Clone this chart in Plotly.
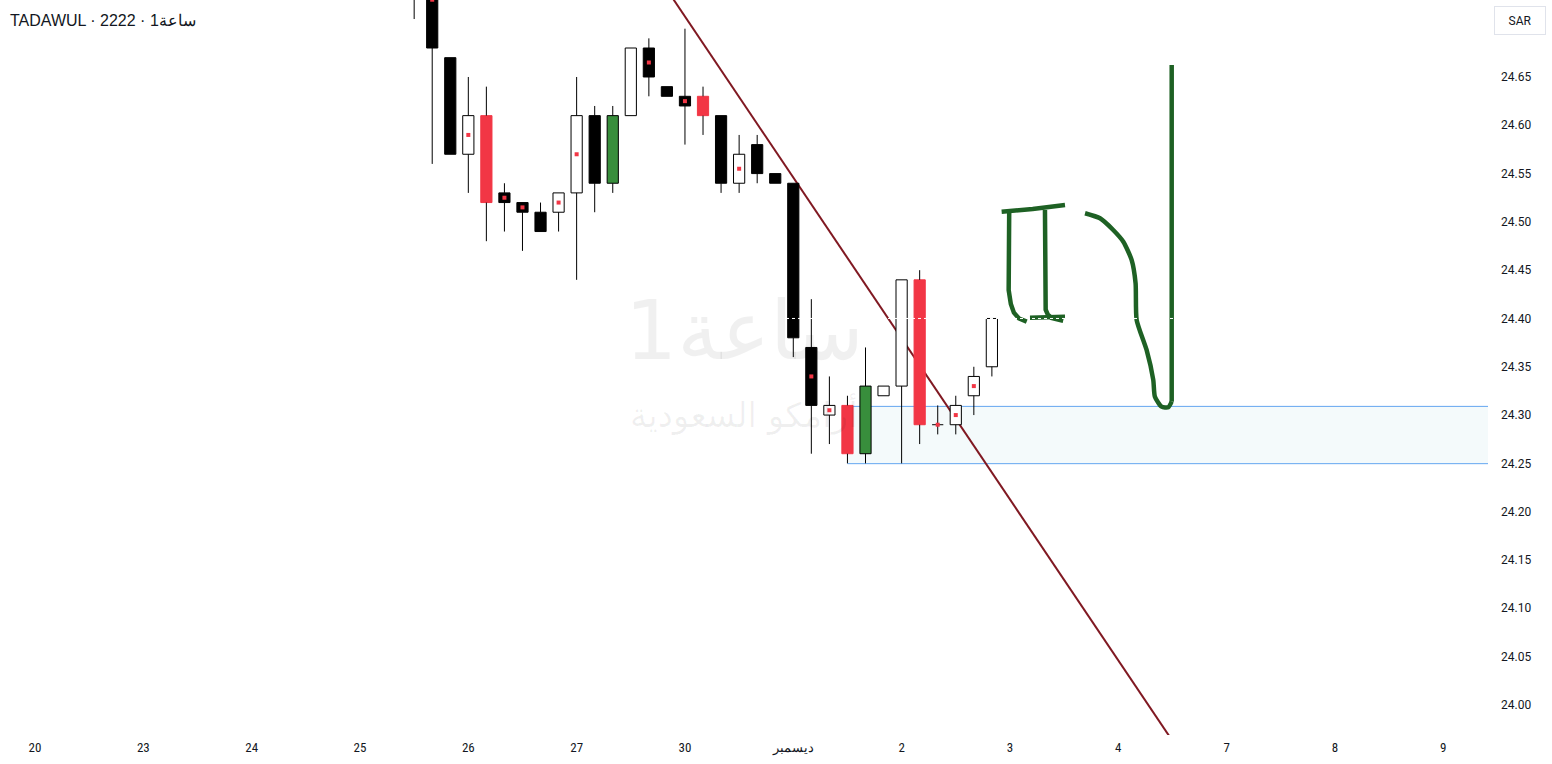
import plotly.graph_objects as go

# ---------------- data ----------------
candle_idx = list(range(21, 54))
opens  = [24.75, 24.74, 24.67, 24.57, 24.61, 24.53, 24.52, 24.51, 24.51, 24.53, 24.61, 24.54, 24.61,
          24.68, 24.64, 24.63, 24.63, 24.61, 24.54, 24.58, 24.55, 24.54, 24.37, 24.30, 24.31, 24.26,
          24.32, 24.33, 24.44, 24.29, 24.29, 24.32, 24.35]
highs  = [24.76, 24.75, 24.67, 24.65, 24.64, 24.54, 24.52, 24.52, 24.53, 24.65, 24.62, 24.62, 24.68,
          24.69, 24.64, 24.70, 24.64, 24.61, 24.59, 24.59, 24.55, 24.54, 24.42, 24.34, 24.32, 24.37,
          24.33, 24.44, 24.45, 24.31, 24.32, 24.35, 24.40]
lows   = [24.71, 24.56, 24.57, 24.53, 24.48, 24.49, 24.47, 24.49, 24.49, 24.44, 24.51, 24.53, 24.61,
          24.63, 24.63, 24.58, 24.59, 24.53, 24.53, 24.54, 24.54, 24.36, 24.26, 24.27, 24.25, 24.25,
          24.32, 24.25, 24.27, 24.28, 24.28, 24.30, 24.34]
closes = [24.74, 24.68, 24.57, 24.61, 24.52, 24.52, 24.51, 24.49, 24.53, 24.61, 24.54, 24.61, 24.68,
          24.65, 24.63, 24.62, 24.61, 24.54, 24.57, 24.55, 24.54, 24.38, 24.31, 24.31, 24.26, 24.33,
          24.33, 24.44, 24.29, 24.29, 24.31, 24.34, 24.40]
# k = black (down), w = hollow (up), r = red (down), g = green (up)
candle_style = ["k", "k", "k", "w", "r", "k", "k", "k", "w", "w", "k", "g", "w",
                "k", "k", "k", "r", "k", "w", "k", "k", "k", "k", "w", "r", "g",
                "w", "w", "r", "k", "w", "w", "w"]

dot_idx = [22, 24, 26, 27, 29, 30, 34, 36, 39, 43, 44, 50, 51, 52]
dot_val = [24.73, 24.59, 24.525, 24.515, 24.52, 24.57, 24.665, 24.625, 24.555, 24.34, 24.305, 24.29, 24.30, 24.33]

tick_idx = [0, 6, 12, 18, 24, 30, 36, 42, 48, 54, 60, 66, 72, 78]
tick_text = ["20", "23", "24", "25", "26", "27", "30", "ديسمبر", "2", "3", "4", "7", "8", "9"]
price_ticks = [24.00, 24.05, 24.10, 24.15, 24.20, 24.25, 24.30, 24.35, 24.40, 24.45, 24.50, 24.55, 24.60, 24.65]

trend_x = [35.0, 63.0]
trend_y = [24.7404, 23.9628]

zone_x0 = 45
zone_top = 24.309
zone_bottom = 24.2497
last_price = 24.40

# freehand drawing strokes (candle index, price)
stroke_top_x = [53.54, 55.26, 57.05]
stroke_top_y = [24.5106, 24.5134, 24.5175]
stroke_left_x = [53.96, 53.92, 53.93, 54.05, 54.22, 54.50, 54.93]
stroke_left_y = [24.5123, 24.4500, 24.4295, 24.4150, 24.4060, 24.4000, 24.3967]
stroke_mid_x = [55.94, 55.94, 55.98, 56.10, 56.30, 56.95]
stroke_mid_y = [24.5123, 24.4157, 24.4090, 24.4040, 24.4005, 24.3977]
stroke_bot_x = [55.11, 57.05]
stroke_bot_y = [24.4008, 24.4018]
stroke_curve_x = [58.16, 58.99, 59.72, 60.28, 60.74, 60.96, 61.02, 61.57, 61.94, 62.03, 62.40, 62.77, 62.96]
stroke_curve_y = [24.5089, 24.5037, 24.4916, 24.4795, 24.4606, 24.4364, 24.3984, 24.3674, 24.3363,
                  24.3190, 24.3087, 24.3081, 24.3139]
stroke_up_x = [62.96, 62.96]
stroke_up_y = [24.3139, 24.6624]

# ---------------- figure ----------------
X_RANGE = [-1.94, 80.48]
Y_RANGE = [23.9688, 24.7297]
BODY_W = 0.62

fig = go.Figure()

# wicks (outside the body only)
wx, wy = [], []
for i, o, h, l, c in zip(candle_idx, opens, highs, lows, closes):
    top, bot = max(o, c), min(o, c)
    if h > top:
        wx += [i, i, None]; wy += [h, top, None]
    if l < bot:
        wx += [i, i, None]; wy += [bot, l, None]
    if o == c:
        wx += [i - BODY_W / 2, i + BODY_W / 2, None]; wy += [o, c, None]
fig.add_trace(go.Scatter(x=wx, y=wy, mode="lines", line=dict(color="#000000", width=1),
                         hoverinfo="skip", showlegend=False))

styles = {
    "k": dict(fill="#000000", line="#000000"),
    "w": dict(fill="#ffffff", line="#000000"),
    "r": dict(fill="#F23645", line="#F23645"),
    "g": dict(fill="#388E3C", line="#000000"),
}
for key, st in styles.items():
    xs, hs, bs = [], [], []
    for i, o, c, s in zip(candle_idx, opens, closes, candle_style):
        if s == key and o != c:
            xs.append(i); bs.append(min(o, c)); hs.append(abs(c - o))
    fig.add_trace(go.Bar(x=xs, y=hs, base=bs, width=BODY_W,
                         marker=dict(color=st["fill"], line=dict(color=st["line"], width=1)),
                         hoverinfo="skip", showlegend=False))

fig.add_trace(go.Scatter(x=dot_idx, y=dot_val, mode="markers",
                         marker=dict(symbol="square", size=4, color="#F23645", line=dict(width=0)),
                         hoverinfo="skip", showlegend=False))

green = "#1E6124"
for sx, sy, shp in [(stroke_top_x, stroke_top_y, "linear"), (stroke_left_x, stroke_left_y, "linear"),
                    (stroke_mid_x, stroke_mid_y, "linear"), (stroke_bot_x, stroke_bot_y, "linear"),
                    (stroke_curve_x, stroke_curve_y, "spline"), (stroke_up_x, stroke_up_y, "linear")]:
    fig.add_trace(go.Scatter(x=sx, y=sy, mode="lines",
                             line=dict(color=green, width=4.5, shape=shp, smoothing=0.6),
                             hoverinfo="skip", showlegend=False))

shapes = [
    dict(type="rect", xref="x", yref="y", x0=zone_x0, x1=X_RANGE[1], y0=zone_bottom, y1=zone_top,
         fillcolor="#F4FAFB", line=dict(width=0), layer="below"),
    dict(type="line", xref="x", yref="y", x0=zone_x0, x1=X_RANGE[1], y0=zone_top, y1=zone_top,
         line=dict(color="#64A6F0", width=1), layer="below"),
    dict(type="line", xref="x", yref="y", x0=zone_x0, x1=X_RANGE[1], y0=zone_bottom, y1=zone_bottom,
         line=dict(color="#64A6F0", width=1), layer="below"),
    dict(type="line", xref="x", yref="y", x0=trend_x[0], x1=trend_x[1], y0=trend_y[0], y1=trend_y[1],
         line=dict(color="#801922", width=2), layer="below"),
    dict(type="line", xref="paper", yref="y", x0=0, x1=1, y0=last_price, y1=last_price,
         line=dict(color="#ffffff", width=1, dash="dot"), layer="above"),
]

PLOT_W, PLOT_H = 1488, 735
annotations = [
    dict(text="1ساعة", xref="paper", yref="paper", x=0.5, y=1 - 330 / PLOT_H, xanchor="center", yanchor="middle",
         showarrow=False, font=dict(family="DejaVu Sans, Noto Sans", size=82, color="rgba(0,0,0,0.06)")),
    dict(text="أرامكو السعودية", xref="paper", yref="paper", x=0.5, y=1 - 414 / PLOT_H, xanchor="center",
         yanchor="middle", showarrow=False,
         font=dict(family="DejaVu Sans, Noto Sans", size=34, color="rgba(0,0,0,0.06)")),
    dict(text="TADAWUL · 2222 · 1ساعة", xref="paper", yref="paper", x=8 / PLOT_W, y=1 - 20 / PLOT_H,
         xanchor="left", yanchor="middle", showarrow=False,
         font=dict(family="Liberation Sans, Arial, Roboto", size=16, color="#131722")),
    dict(text="SAR", xref="paper", yref="paper", x=1520 / PLOT_W, y=1 - 20 / PLOT_H,
         xanchor="center", yanchor="middle", showarrow=False, bordercolor="#E0E3EB", borderwidth=1,
         borderpad=5, width=40, height=17, bgcolor="#ffffff",
         font=dict(family="Roboto", size=12, color="#131722")),
]

fig.update_layout(
    width=1552, height=764,
    margin=dict(l=0, r=64, t=0, b=29),
    paper_bgcolor="#ffffff", plot_bgcolor="#ffffff",
    barmode="overlay", showlegend=False, hovermode=False,
    shapes=shapes, annotations=annotations,
    xaxis=dict(range=X_RANGE, tickmode="array", tickvals=tick_idx, ticktext=tick_text,
               showgrid=False, zeroline=False, showline=False, ticks="", ticklabelstandoff=3,
               tickfont=dict(family="Liberation Sans Narrow, Roboto Condensed, Roboto", size=13, color="#131722")),
    yaxis=dict(range=Y_RANGE, side="right", tickmode="array", tickvals=price_ticks,
               ticktext=[f"{v:.2f}" for v in price_ticks], showgrid=False, zeroline=False, showline=False,
               ticks="", ticklabelstandoff=12,
               tickfont=dict(family="Roboto", size=12, color="#131722")),
)

fig.write_html("out.html", config={"displayModeBar": False},
               post_script="document.body.style.margin='0';document.body.style.padding='0';document.body.style.overflow='hidden';")
